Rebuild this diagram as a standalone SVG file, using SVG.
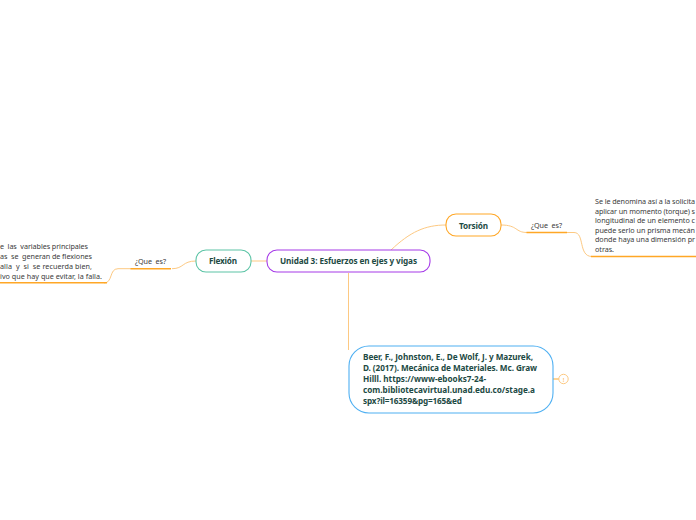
<svg xmlns="http://www.w3.org/2000/svg" width="696" height="520" viewBox="0 0 696 520">
<style>
text{font-family:"Noto Sans","Open Sans",sans-serif;white-space:pre}
.b{font-size:8.200px;font-weight:700;fill:#1d4a44}
.s{font-size:7.200px;fill:#3a3a3a}
.c{fill:none;stroke:#fdc982;stroke-width:1}
.u{fill:none;stroke:#ffa726;stroke-width:1.600}
.n{fill:#fff;stroke-width:1.100}
</style>
<rect width="696" height="520" fill="#fff"/>
<g id="connectors">
<path class="c" d="M267 261H251"/>
<path class="c" d="M196 261C182 261 184 268.700 172 268.700"/>
<path class="c" d="M131 268.700H118C109 268.700 113 283 104 283"/>
<path class="c" d="M391 250C410 232 425 225 446 225"/>
<path class="c" d="M501 225C518 225 515 232.500 527 232.500"/>
<path class="c" d="M567 232.500H574C585 232.500 578 256.500 592 256.500"/>
<path class="c" d="M348.500 273V350"/>
<path d="M553 379H559" fill="none" stroke="#ffa726" stroke-width="1"/>
</g>
<g id="root"><rect class="n" x="267" y="250" width="163" height="22" rx="10" stroke="#a63be8"/><text class="b" x="280" y="264" textLength="137">Unidad 3: Esfuerzos en ejes y vigas</text></g>
<g id="flexion"><rect class="n" x="196" y="250" width="55" height="22" rx="10" stroke="#5cc4a6"/><text class="b" x="209" y="264" textLength="28">Flexión</text></g>
<g id="torsion"><rect class="n" x="446" y="214" width="55" height="22" rx="10" stroke="#ffa726"/><text class="b" x="459" y="228.500" textLength="29">Torsión</text></g>
<g id="que-es-izq"><text class="s" x="135" y="264" textLength="31">¿Que  es?</text><path class="u" d="M130.500 268.700H171"/></g>
<g id="que-es-der"><text class="s" x="531" y="228" textLength="31">¿Que  es?</text><path class="u" d="M526.500 232.500H567"/></g>
<g id="texto-flexion">
<text class="s" x="0" y="249" textLength="88">e  las  variables principales</text>
<text class="s" x="0" y="259" textLength="92">as  se  generan de flexiones</text>
<text class="s" x="0" y="269" textLength="92">alla  y  si  se recuerda bien,</text>
<text class="s" x="0" y="279" textLength="102">ivo que hay que evitar, la falla.</text>
<path class="u" d="M0 282.700H107"/>
</g>
<g id="texto-torsion">
<text class="s" x="595" y="204" textLength="100">Se le denomina así a la solicita</text>
<text class="s" x="595" y="213.500" textLength="100">aplicar un momento (torque) s</text>
<text class="s" x="595" y="223" textLength="100">longitudinal de un elemento c</text>
<text class="s" x="595" y="232.500" textLength="100">puede serlo un prisma mecán</text>
<text class="s" x="595" y="242" textLength="100">donde haya una dimensión pr</text>
<text class="s" x="595" y="251.500" textLength="19">otras.</text>
<path class="u" d="M591 256.500H696"/>
</g>
<g id="referencia"><rect class="n" x="349" y="346" width="204" height="67" rx="20" stroke="#4fb0f2"/>
<text class="b" x="363" y="360" textLength="170">Beer, F., Johnston, E., De Wolf, J. y Mazurek,</text>
<text class="b" x="363" y="371" textLength="174">D. (2017). Mecánica de Materiales. Mc. Graw</text>
<text class="b" x="363" y="382" textLength="123">Hilll. https://www-ebooks7-24-</text>
<text class="b" x="363" y="393" textLength="172">com.bibliotecavirtual.unad.edu.co/stage.a</text>
<text class="b" x="363" y="404" textLength="99">spx?il=16359&amp;pg=165&amp;ed</text></g>
<g id="info"><circle cx="563.500" cy="379" r="4.700" fill="#fff" stroke="#fdc982"/><text x="563.500" y="381.500" text-anchor="middle" font-size="6" fill="#ffa726">!</text></g>
</svg>
